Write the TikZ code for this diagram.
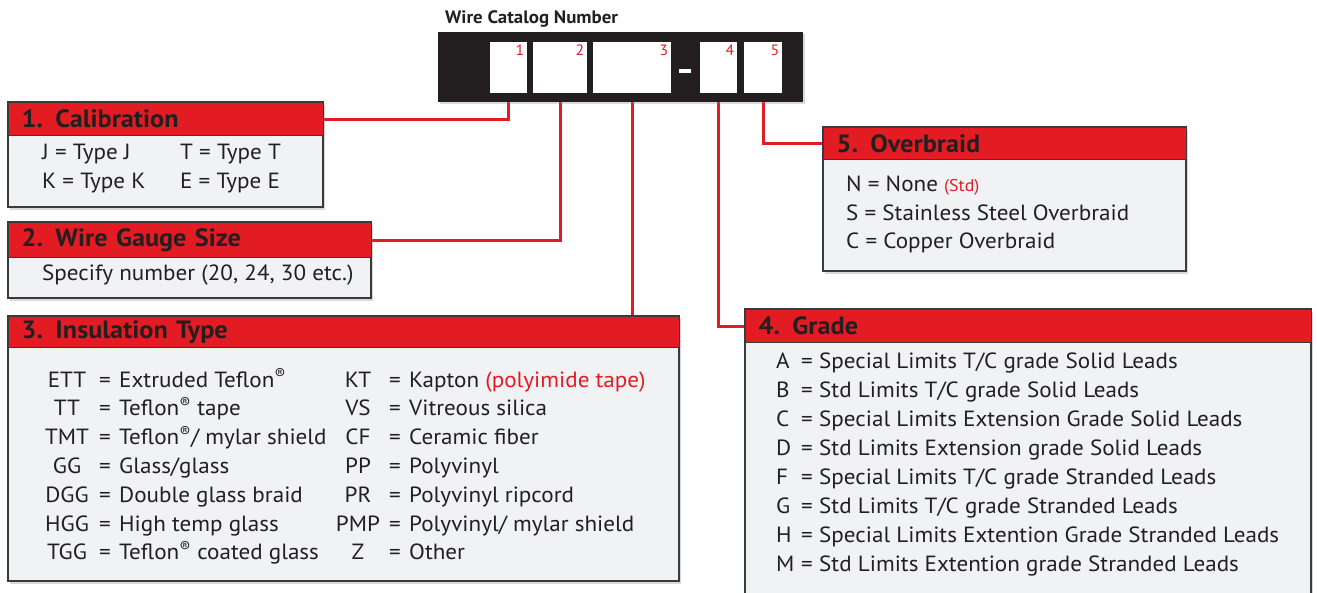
\documentclass[tikz,border=0pt]{standalone}
\usepackage{fontspec}
\setmainfont{PT Sans}[FakeStretch=1.05]
\usepackage{tikz}
\usetikzlibrary{positioning,backgrounds,shadows}
\definecolor{catred}{HTML}{E31B23}
\definecolor{ink}{HTML}{231F20}
\definecolor{panel}{HTML}{F1F2F4}
\definecolor{rim}{HTML}{3A3A3C}
\newcommand{\reg}{\textsuperscript{\textregistered}}
\newcommand{\bodyfont}{\fontsize{22}{26}\selectfont}
\newcommand{\hdrfont}{\fontsize{25}{29}\selectfont\bfseries}
\tikzset{
  catbar/.style   = {rectangle, fill=ink, anchor=north west, inner sep=0pt,
                     drop shadow={shadow xshift=2pt, shadow yshift=-2pt, opacity=0.3}},
  slot/.style     = {rectangle, fill=white, anchor=north west, inner sep=0pt, minimum height=51pt},
  slotnum/.style  = {anchor=north east, inner sep=0pt, font=\fontsize{15}{17}\selectfont, text=catred},
  panelbox/.style = {draw=rim, fill=panel, line width=1.3pt,
                     drop shadow={shadow xshift=2pt, shadow yshift=-3pt, opacity=0.3}},
  hdr/.style      = {rectangle, draw=rim, fill=catred, line width=1.3pt, anchor=north west,
                     minimum height=33pt, inner xsep=13pt, inner ysep=0pt, text width=#1,
                     align=left, font=\hdrfont, text=ink},
  item/.style     = {anchor=base west, inner sep=0pt, font=\bodyfont, text=ink},
  code/.style     = {anchor=base, inner sep=0pt, font=\bodyfont, text=ink},
  wire/.style     = {draw=catred, line width=3pt},
}

\begin{document}
\begin{tikzpicture}[x=1pt, y=-1pt]
  \useasboundingbox (0,0) rectangle (1317,592);
  \clip (0,0) rectangle (1317,592);

  %% ---- the catalog number ----
  \node[anchor=base west, inner sep=0pt, font=\fontsize{18}{21}\selectfont\bfseries, text=ink]
    (title) at (445,23) {Wire Catalog Number};
  \node[catbar, minimum width=365pt, minimum height=70pt] (bar) at (438,32) {};
  \foreach \n/\x/\w in {1/490/37, 2/533/54, 3/593/78, 4/700/37, 5/744/38} {
    \node[slot, minimum width=\w pt] (s\n) at (\x,42) {};
    \node[slotnum] (n\n) at ([xshift=-3pt, yshift=-3pt]s\n.north east) {\n};
  }
  \node[rectangle, fill=white, inner sep=0pt, minimum width=12pt, minimum height=4pt] (dash) at (685,71) {};

  %% ---- 1. calibration ----
  \draw[panelbox] (8,102) rectangle (323,207);
  \node[hdr=289pt] (cal) at (8,102) {1.\enspace Calibration};
  \foreach \a/\b/\y [count=\i] in {J/T/159, K/E/188} {
    \node[item] (cal-\i-a) at (42,\y) {\a\ = Type \a};
    \node[item] (cal-\i-b) at (180,\y) {\b\ = Type \b};
  }

  %% ---- 2. wire gauge ----
  \draw[panelbox] (8,222) rectangle (371,298);
  \node[hdr=337pt, minimum height=35pt] (gauge) at (8,222) {2.\enspace Wire Gauge Size};
  \node[item] (gauge-1) at (42,280) {Specify number (20, 24, 30 etc.)};

  %% ---- 3. insulation ----
  \draw[panelbox] (8,316) rectangle (679,581);
  \node[hdr=645pt, minimum height=31pt] (ins) at (8,316) {3.\enspace Insulation Type};
  \foreach \c/\d [count=\i] in {ETT/{Extruded Teflon\reg}, TT/{Teflon\reg\ tape},
                                TMT/{Teflon\reg/ mylar shield}, GG/{Glass/glass},
                                DGG/{Double glass braid}, HGG/{High temp glass},
                                TGG/{Teflon\reg\ coated glass}} {
    \node[code] (insl-\i) at (67,{387+28.8*(\i-1)}) {\c};
    \node[code] (insle-\i) at (105,{387+28.8*(\i-1)}) {=};
    \node[item] (insld-\i) at (119,{387+28.8*(\i-1)}) {\d};
  }
  \foreach \c/\d [count=\i] in {KT/{Kapton \textcolor{catred}{(polyimide tape)}}, VS/{Vitreous silica},
                                CF/{Ceramic fiber}, PP/{Polyvinyl}, PR/{Polyvinyl ripcord},
                                PMP/{Polyvinyl/ mylar shield}, Z/{Other}} {
    \node[code] (insr-\i) at (358,{387+28.8*(\i-1)}) {\c};
    \node[code] (insre-\i) at (395,{387+28.8*(\i-1)}) {=};
    \node[item] (insrd-\i) at (409,{387+28.8*(\i-1)}) {\d};
  }

  %% ---- 4. grade ----
  \draw[panelbox] (745,309) rectangle (1311,610);
  \node[hdr=540pt] (grade) at (745,309) {4.\enspace Grade};
  \foreach \c/\d [count=\i] in {A/{Special Limits T/C grade Solid Leads},
                                B/{Std Limits T/C grade Solid Leads},
                                C/{Special Limits Extension Grade Solid Leads},
                                D/{Std Limits Extension grade Solid Leads},
                                F/{Special Limits T/C grade Stranded Leads},
                                G/{Std Limits T/C grade Stranded Leads},
                                H/{Special Limits Extention Grade Stranded Leads},
                                M/{Std Limits Extention grade Stranded Leads}} {
    \node[item] (gr-\i) at (776,{368+29*(\i-1)}) {\c};
    \node[code] (gre-\i) at (807,{368+29*(\i-1)}) {=};
    \node[item] (grd-\i) at (819,{368+29*(\i-1)}) {\d};
  }

  %% ---- 5. overbraid ----
  \draw[panelbox] (823,127) rectangle (1186,271);
  \node[hdr=337pt, minimum height=32pt] (braid) at (823,127) {5.\enspace Overbraid};
  \node[item] (braid-1) at (846,191) {N = None {\fontsize{17}{20}\selectfont\color{catred}(Std)}};
  \node[item] (braid-2) at (846,220) {S = Stainless Steel Overbraid};
  \node[item] (braid-3) at (846,248) {C = Copper Overbraid};

  % red leads, behind the bar
  \begin{scope}[on background layer]
    \draw[wire] (s1.south) |- (cal.east);
    \draw[wire] (s2.south) |- (gauge.east);
    \draw[wire] (s3.south) -- (s3.south |- ins.north);
    \draw[wire] (s4.south) |- (grade.west);
    \draw[wire] (s5.south) |- (braid.west);
  \end{scope}
\end{tikzpicture}
\end{document}
